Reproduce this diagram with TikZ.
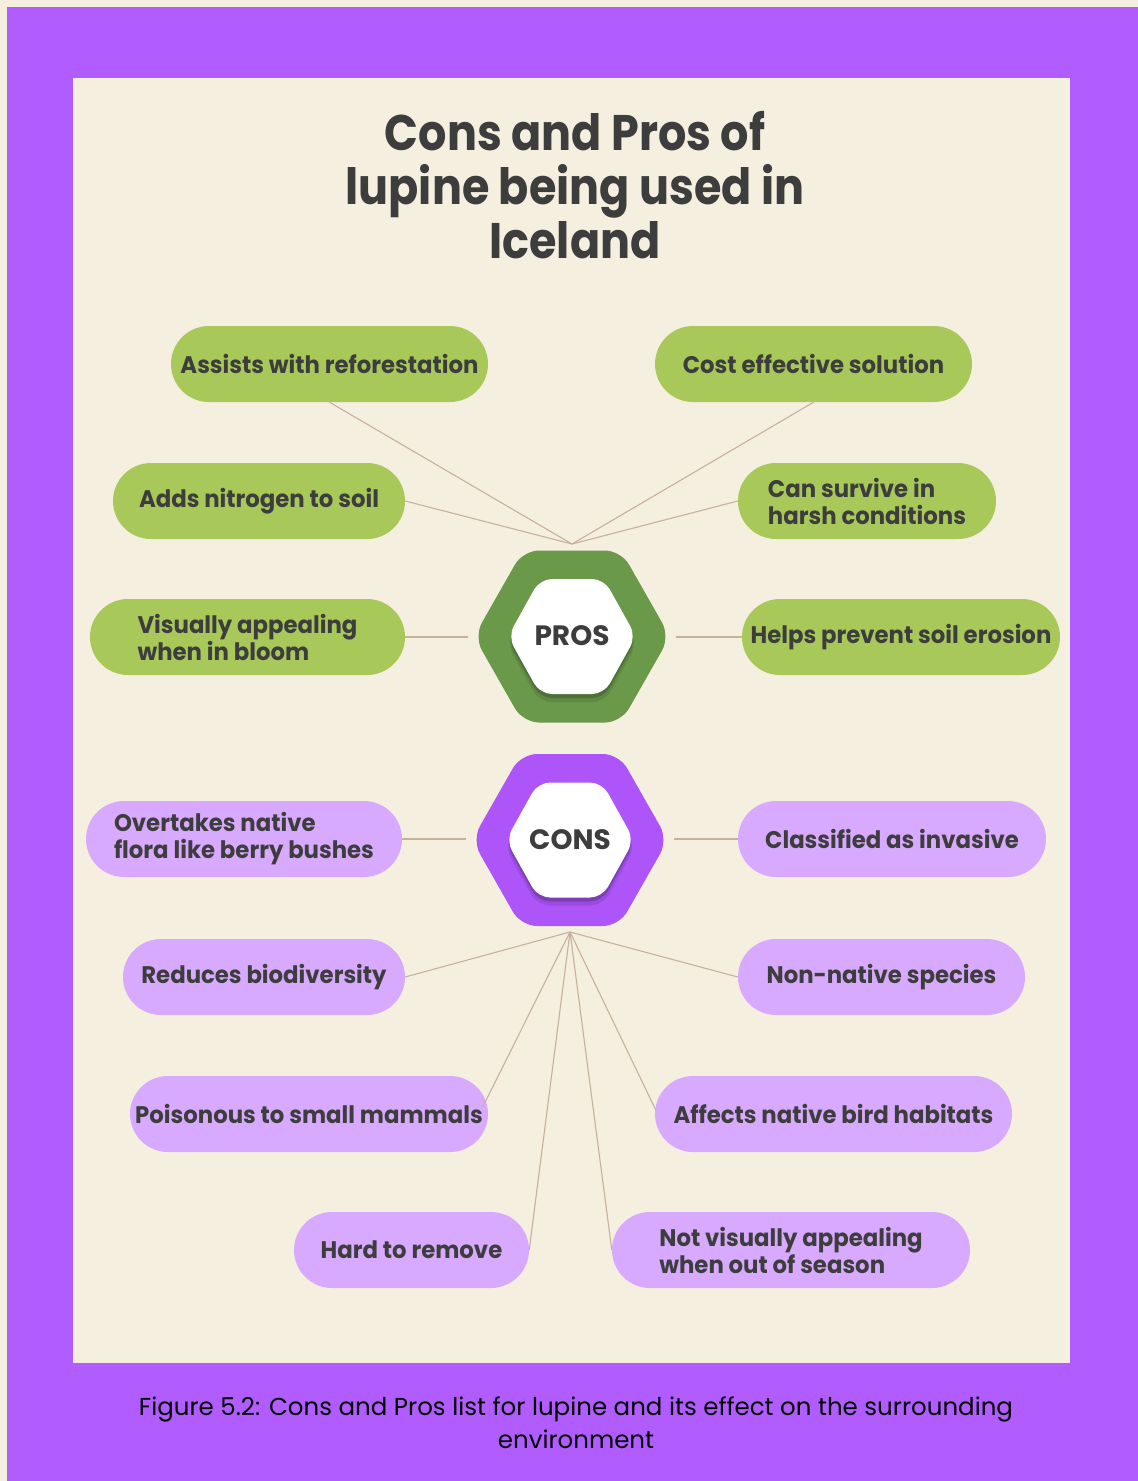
\documentclass[tikz,border=0pt]{standalone}
\usepackage{fontspec}
\setmainfont{Poppins}
\newfontfamily\pfont{Poppins}[FakeStretch=0.95]
\newfontfamily\tfont{Poppins}[FakeStretch=0.89]
\usetikzlibrary{calc}
\definecolor{bgpurple}{HTML}{B15CFF}
\definecolor{cream}{HTML}{F5EFDF}
\definecolor{pillgreen}{HTML}{A8C85A}
\definecolor{hexgreen}{HTML}{6A994A}
\definecolor{pillpurple}{HTML}{D8AAFF}
\definecolor{hexpurple}{HTML}{AD55F9}
\definecolor{linktan}{HTML}{C6B29C}
\definecolor{ink}{HTML}{3D3D3D}
\tikzset{
  pill/.style={rectangle, rounded corners=38pt, minimum height=76pt, inner sep=0pt,
    font=\pfont\bfseries\fontsize{24}{27}\selectfont, text=ink, align=left},
  pro/.style={pill, fill=pillgreen},
  con/.style={pill, fill=pillpurple},
  link/.style={draw=linktan, line width=1.1pt},
  hexa/.style n args={4}{insert path={({#1-#3},{#2}) -- ({#1-#3/2},{#2-#4}) -- ({#1+#3/2},{#2-#4}) -- ({#1+#3},{#2}) -- ({#1+#3/2},{#2+#4}) -- ({#1-#3/2},{#2+#4}) -- cycle}},
  hublabel/.style={font=\bfseries\fontsize{28}{30}\selectfont, text=ink},
  titletext/.style={anchor=base, font=\tfont\bfseries\fontsize{50}{54}\selectfont, text=ink},
  captext/.style={anchor=base, font=\fontsize{24.5}{28}\selectfont, text=black}
}
\begin{document}
\begin{tikzpicture}[x=1pt,y=-1pt]
\useasboundingbox (0,0) rectangle (1138,1481);
\fill[cream] (0,0) rectangle (1138,1481);
\fill[bgpurple] (7,7) rectangle (1138,1481);
\fill[cream] (73,78) rectangle (1070,1363);

% title
\node[titletext] (t1) at (575,150) {Cons and Pros of};
\node[titletext] (t2) at (575,204) {lupine being used in};
\node[titletext] (t3) at (575,258) {Iceland};

% hubs
\coordinate (prohub) at (572,544);
\coordinate (conhub) at (570,932);
\coordinate (proL) at (468,637);
\coordinate (proR) at (676,637);
\coordinate (conL) at (466,839);
\coordinate (conR) at (674,839);

% pros pills
\node[pro, minimum width=317pt] (aa) at (329.5,364) {Assists with reforestation};
\node[pro, minimum width=317pt] (bb) at (813.5,364) {Cost effective solution};
\node[pro, minimum width=292pt] (cc) at (259,501) {Adds nitrogen to soil};
\node[pro, minimum width=258pt] (dd) at (867,501) {Can survive in\\harsh conditions};
\node[pro, minimum width=315pt] (ee) at (247.5,637) {Visually appealing\\when in bloom};
\node[pro, minimum width=318pt] (ff) at (901,637) {Helps prevent soil erosion};

% cons pills
\node[con, minimum width=316pt] (ga) at (244,839) {Overtakes native\\flora like berry bushes};
\node[con, minimum width=308pt] (gb) at (892,839) {Classified as invasive};
\node[con, minimum width=282pt] (gc) at (264,977) {Reduces biodiversity};
\node[con, minimum width=287pt] (gd) at (881.5,977) {Non-native species};
\node[con, minimum width=358pt] (ge) at (309,1114) {Poisonous to small mammals};
\node[con, minimum width=357pt] (gf) at (833.5,1114) {Affects native bird habitats};
\node[con, minimum width=235pt] (gg) at (411.5,1250) {Hard to remove};
\node[con, minimum width=358pt] (gh) at (791,1250) {Not visually appealing\\when out of season};

% connectors
\draw[link] (aa.south) -- (prohub);
\draw[link] (bb.south) -- (prohub);
\draw[link] (cc.east) -- (prohub);
\draw[link] (dd.west) -- (prohub);
\draw[link] (ee.east) -- (proL);
\draw[link] (proR) -- (ff.west);
\draw[link] (ga.east) -- (conL);
\draw[link] (conR) -- (gb.west);
\draw[link] (gc.east) -- (conhub);
\draw[link] (gd.west) -- (conhub);
\draw[link] ($(ge.east)+(-6,-6)$) -- (conhub);
\draw[link] ($(gf.west)+(1,-4)$) -- (conhub);
\draw[link] (gg.east) -- (conhub);
\draw[link] (gh.west) -- (conhub);

% PROS hexagon
\fill[hexgreen, rounded corners=16pt, hexa={572}{636.5}{98}{86}];
\fill[black, opacity=0.10, rounded corners=13pt, hexa={572}{643}{65.5}{59}];
\fill[black, opacity=0.18, rounded corners=12pt, hexa={572}{640.5}{64}{57.5}];
\fill[white, rounded corners=12pt, hexa={572}{636.5}{64}{57.5}];
\node[hublabel] (pros) at (572,636) {PROS};

% CONS hexagon
\fill[hexpurple, rounded corners=16pt, hexa={570}{840}{98}{86}];
\fill[black, opacity=0.10, rounded corners=13pt, hexa={570}{846.5}{65.5}{59}];
\fill[black, opacity=0.18, rounded corners=12pt, hexa={570}{844}{64}{57.5}];
\fill[white, rounded corners=12pt, hexa={570}{840}{64}{57.5}];
\node[hublabel] (cons) at (570,840) {CONS};

% caption
\node[captext] (cap1) at (576,1415) {Figure 5.2: Cons and Pros list for lupine and its effect on the surrounding};
\node[captext] (cap2) at (576,1448) {environment};
\end{tikzpicture}
\end{document}
